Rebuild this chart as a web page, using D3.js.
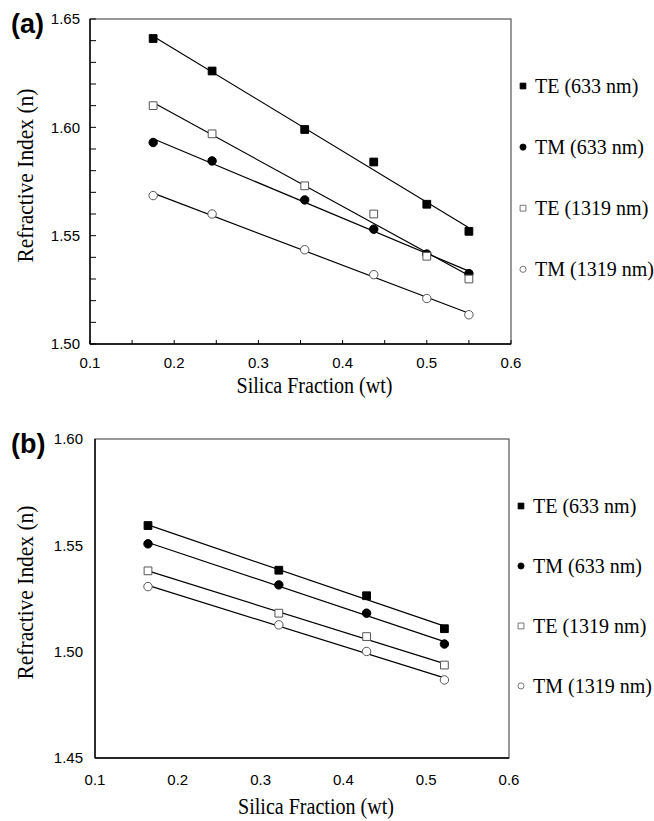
<!DOCTYPE html>
<meta charset="utf-8">
<script src="https://cdnjs.cloudflare.com/ajax/libs/d3/7.8.5/d3.min.js"></script>
<style>
  body { margin: 0; background: #fff; }
  .tick-label { font-family: "Liberation Sans", Arial, sans-serif; font-size: 15px; fill: #000; }
  .title { font-family: "Liberation Serif", "Times New Roman", serif; font-size: 24px; fill: #000; }
  .legend { font-family: "Liberation Serif", "Times New Roman", serif; font-size: 20px; fill: #000; }
  .panel { font-family: "Liberation Sans", Arial, sans-serif; font-size: 27px; font-weight: bold; }
</style>
<div id="chart"></div>
<script>

var seriesNames = ["TE (633 nm)", "TM (633 nm)", "TE (1319 nm)", "TM (1319 nm)"];

// panel (a)
var aSilica  = [0.175, 0.245, 0.355, 0.437, 0.500, 0.550];
var aTE633   = [1.641, 1.626, 1.599, 1.584, 1.5645, 1.552];
var aTM633   = [1.593, 1.5845, 1.5665, 1.553, 1.5415, 1.5325];
var aTE1319  = [1.610, 1.597, 1.573, 1.560, 1.5405, 1.530];
var aTM1319  = [1.5685, 1.560, 1.5435, 1.532, 1.521, 1.5135];
var aYTicks  = [1.50, 1.55, 1.60, 1.65];

// panel (b)
var bSilica  = [0.164, 0.322, 0.428, 0.522];
var bTE633   = [1.5593, 1.5383, 1.5263, 1.5108];
var bTM633   = [1.5507, 1.5314, 1.5181, 1.5036];
var bTE1319  = [1.538, 1.5181, 1.5071, 1.4937];
var bTM1319  = [1.5306, 1.5126, 1.5001, 1.4867];
var bYTicks  = [1.45, 1.50, 1.55, 1.60];

var xTicks = [0.1, 0.2, 0.3, 0.4, 0.5, 0.6];

var svg = d3.select("#chart").append("svg")
  .attr("width", 654)
  .attr("height", 821);

// marker style per series: filled square, filled circle, open square, open circle
var markerType = [d3.symbolSquare, d3.symbolCircle, d3.symbolSquare, d3.symbolCircle];
var markerOpen = [false, false, true, true];

// least squares trend line over the data range
function fitLine(xs, ys) {
  var n = xs.length, mx = d3.mean(xs), my = d3.mean(ys);
  var sxy = 0, sxx = 0;
  for (var i = 0; i < n; i++) { sxy += (xs[i]-mx)*(ys[i]-my); sxx += (xs[i]-mx)*(xs[i]-mx); }
  var b = sxy / sxx, a = my - b*mx;
  var x0 = d3.min(xs), x1 = d3.max(xs);
  return [[x0, a + b*x0], [x1, a + b*x1]];
}

function drawPanel(cfg) {
  var g = svg.append("g");
  var x = d3.scaleLinear().domain([0.1, 0.6]).range([cfg.left, cfg.right]);
  var y = d3.scaleLinear().domain(cfg.yDomain).range([cfg.bottom, cfg.top]);
  var h = cfg.bottom - cfg.top;

  // frame
  g.append("rect")
    .attr("x", cfg.left).attr("y", cfg.top)
    .attr("width", cfg.right - cfg.left).attr("height", h)
    .attr("fill", "none").attr("stroke", "#555").attr("stroke-width", 1.2);
  g.append("line").attr("x1", cfg.left).attr("x2", cfg.left).attr("y1", cfg.top).attr("y2", cfg.bottom)
    .attr("stroke", "#000").attr("stroke-width", 1.4);
  g.append("line").attr("x1", cfg.left).attr("x2", cfg.right).attr("y1", cfg.bottom).attr("y2", cfg.bottom)
    .attr("stroke", "#000").attr("stroke-width", 1.4);

  // inward minor ticks
  if (cfg.minorTicks) {
    var yMinor = d3.range(cfg.yDomain[0], cfg.yDomain[1] + 0.0001, 0.01);
    g.selectAll(".ymt").data(yMinor).enter().append("line")
      .attr("x1", cfg.left).attr("x2", cfg.left + 6)
      .attr("y1", d => y(d)).attr("y2", d => y(d))
      .attr("stroke", "#000").attr("stroke-width", 1);
    var xMinor = d3.range(0.1, 0.6001, 0.05);
    g.selectAll(".xmt").data(xMinor).enter().append("line")
      .attr("x1", d => x(d)).attr("x2", d => x(d))
      .attr("y1", cfg.bottom).attr("y2", cfg.bottom - 4)
      .attr("stroke", "#000").attr("stroke-width", 1);
  }

  // tick labels
  g.selectAll(".yl").data(cfg.yTicks).enter().append("text")
    .attr("class", "tick-label")
    .attr("x", cfg.left - cfg.yLabelGap)
    .attr("y", d => y(d)).attr("dy", "0.35em")
    .attr("text-anchor", "end")
    .text(d => d.toFixed(2));
  g.selectAll(".xl").data(xTicks).enter().append("text")
    .attr("class", "tick-label")
    .attr("x", d => x(d))
    .attr("y", cfg.bottom + cfg.xLabelGap)
    .attr("text-anchor", "middle")
    .text(d => d.toFixed(1));

  // titles
  g.append("text").attr("class", "title")
    .attr("x", (cfg.left + cfg.right) / 2 + 14)
    .attr("y", cfg.xTitleY)
    .attr("text-anchor", "middle")
    .attr("textLength", 156).attr("lengthAdjust", "spacingAndGlyphs")
    .text("Silica Fraction (wt)");
  g.append("text").attr("class", "title")
    .attr("transform", "translate(" + 33 + "," + (cfg.top + h / 2 - 6) + ") rotate(-90)")
    .attr("text-anchor", "middle")
    .attr("textLength", 174).attr("lengthAdjust", "spacingAndGlyphs")
    .text("Refractive Index (n)");
  g.append("text").attr("class", "panel")
    .attr("x", 11).attr("y", cfg.top + 14)
    .text(cfg.label);

  // trend lines
  cfg.series.forEach(function(ys) {
    var fit = fitLine(cfg.xs, ys);
    g.append("line")
      .attr("x1", x(fit[0][0])).attr("y1", y(fit[0][1]))
      .attr("x2", x(fit[1][0])).attr("y2", y(fit[1][1]))
      .attr("stroke", "#000").attr("stroke-width", 1.2);
  });
  // markers
  cfg.series.forEach(function(ys, i) {
    var pts = cfg.xs.map((v, j) => [v, ys[j]]);
    var size = markerType[i] === d3.symbolSquare ? 60 : 56;
    g.selectAll(".m" + i).data(pts).enter().append("path")
      .attr("d", d3.symbol().type(markerType[i]).size(size))
      .attr("transform", d => "translate(" + x(d[0]) + "," + y(d[1]) + ")")
      .attr("fill", markerOpen[i] ? "#fff" : "#000")
      .attr("stroke", markerOpen[i] ? "#555" : "#000")
      .attr("stroke-width", 1);
  });

  // legend
  seriesNames.forEach(function(name, i) {
    var ly = cfg.top + 67 + i * 0.188 * h;
    g.append("path")
      .attr("d", d3.symbol().type(markerType[i]).size(markerType[i] === d3.symbolSquare ? 34 : 30))
      .attr("transform", "translate(" + (cfg.right + 12) + "," + ly + ")")
      .attr("fill", markerOpen[i] ? "#fff" : "#000")
      .attr("stroke", markerOpen[i] ? "#555" : "#000")
      .attr("stroke-width", 0.8);
    g.append("text").attr("class", "legend")
      .attr("x", cfg.right + 24).attr("y", ly).attr("dy", "0.35em")
      .text(name);
  });
}

drawPanel({
  label: "(a)", left: 90, right: 511, top: 19, bottom: 344,
  yDomain: [1.50, 1.65], yTicks: aYTicks, minorTicks: true,
  yLabelGap: 10, xLabelGap: 24, xTitleY: 393,
  xs: aSilica, series: [aTE633, aTM633, aTE1319, aTM1319]
});

drawPanel({
  label: "(b)", left: 95, right: 509, top: 439, bottom: 758,
  yDomain: [1.45, 1.60], yTicks: bYTicks, minorTicks: false,
  yLabelGap: 12, xLabelGap: 27, xTitleY: 814,
  xs: bSilica, series: [bTE633, bTM633, bTE1319, bTM1319]
});

</script>
